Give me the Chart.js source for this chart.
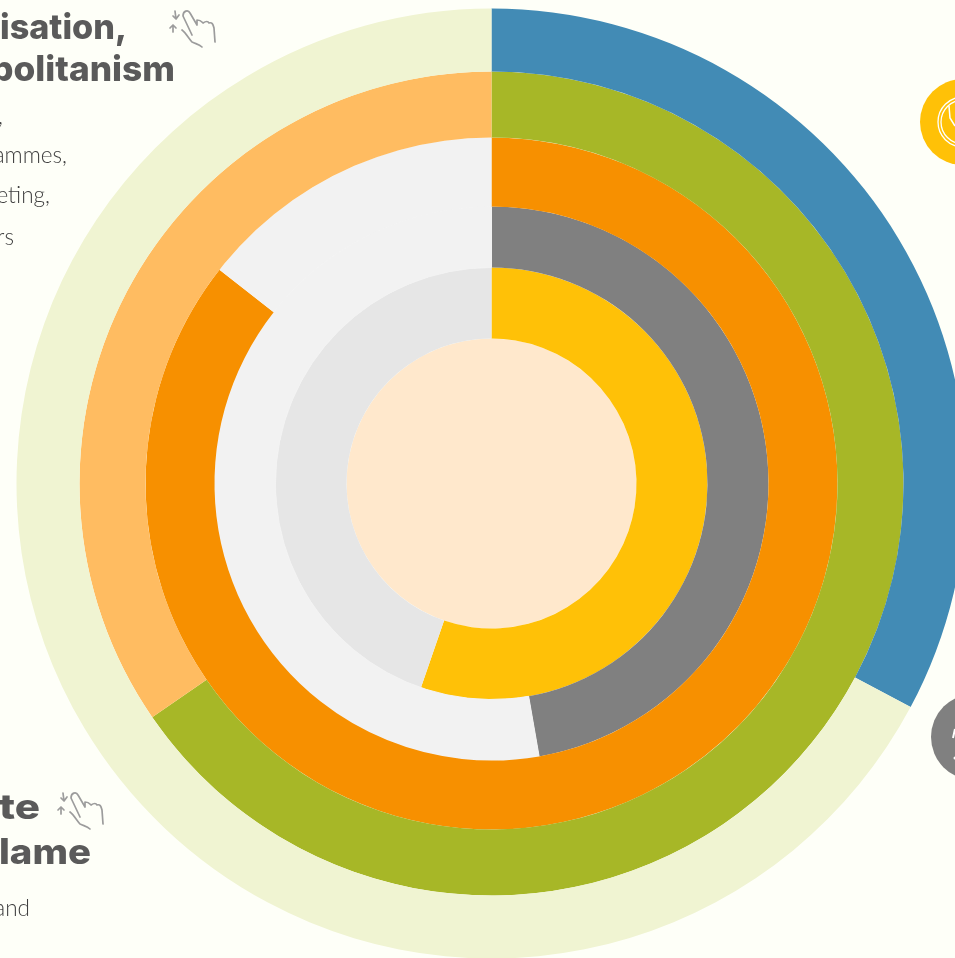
<!DOCTYPE html>
<html>
<head>
<meta charset="utf-8">
<style>
html,body{margin:0;padding:0;width:955px;height:958px;overflow:hidden;background:#fefff8;}
#rings{position:absolute;left:16px;top:8px;}
#over{position:absolute;left:0;top:0;}
.h{font-family:Inter,sans-serif;font-weight:800;font-size:35px;fill:#5a5a5a;text-anchor:end;}
.b{font-family:Lato,sans-serif;font-weight:300;font-size:22.5px;fill:#3f3f3f;text-anchor:end;}
</style>
</head>
<body>
<canvas id="rings" width="951" height="951"></canvas>
<svg id="over" width="955" height="958">
<defs>
<g id="hand" fill="none" stroke="#9c9c9c" stroke-width="1.7" stroke-linecap="round" stroke-linejoin="round">
<path d="M12 22 C16 25 19 31 22 34 C26 36 29 36 32 39"/>
<path d="M22 27 L13 8 C13 3 18 1 20 5 L27 17 L27 12 C31 12 32 14 33 15 C36 13 38 13 39 15 C42 14 43 16 44 20 L45 34"/>
<path d="M5 3 L6 11 M3 8 L6 11 L9 7"/>
<path d="M3 24 L3 17 M0 20 L3 17 L6 20"/>
</g>
</defs>
<text class="h" x="127" y="39" textLength="127" lengthAdjust="spacingAndGlyphs">isation,</text>
<text class="h" x="175" y="81" textLength="184" lengthAdjust="spacingAndGlyphs">politanism</text>
<text class="b" x="3" y="124">,</text>
<text class="b" x="67" y="163">ammes,</text>
<text class="b" x="50" y="203">eting,</text>
<text class="b" x="14" y="245">rs</text>
<text class="h" x="40" y="819" textLength="41" lengthAdjust="spacingAndGlyphs">te</text>
<text class="h" x="91" y="864" textLength="92" lengthAdjust="spacingAndGlyphs">lame</text>
<text class="b" x="30" y="916">and</text>
<use href="#hand" x="170" y="8"/>
<use href="#hand" x="58" y="790"/>
<circle cx="963" cy="122" r="43" fill="#ffc107"/>
<circle cx="963" cy="122" r="25" fill="none" stroke="#fff" stroke-width="1.3"/>
<circle cx="963" cy="122" r="22" fill="none" stroke="#fff" stroke-width="1.3"/>
<path d="M949 106 L950 118 L955 126" fill="none" stroke="#fff" stroke-width="1.5"/>
<circle cx="974" cy="737" r="43" fill="#808080"/>
<path d="M955 729 L953 738" stroke="#fff" stroke-width="2" fill="none"/>
<circle cx="955" cy="758" r="1.5" fill="#fff"/>
</svg>
<script src="https://cdn.jsdelivr.net/npm/chart.js@4"></script>
<script>
// outer to inner, the library puts the first dataset on the outside
const ring5 = [32.8, 67.2];
const ring4 = [65.4, 34.6];
const ring3 = [85.6, 14.4];
const ring2 = [47.25, 52.75];
const ring1 = [55.3, 44.7];
const centre = [100];

new Chart(document.getElementById('rings').getContext('2d'), {
    type: 'doughnut',
    data: {
        labels: ['Value', 'Rest'],
        datasets: [
            {data: ring5, backgroundColor: ['#428bb5', '#f0f4d2'], weight: 63},
            {data: ring4, backgroundColor: ['#a7b727', '#ffbc61'], weight: 66},
            {data: ring3, backgroundColor: ['#f79000', '#f2f2f2'], weight: 69},
            // thin same colour border hides the seam with the ring above
            {data: ring2, backgroundColor: ['#808080', '#f2f2f2'], borderColor: ['#808080', '#f2f2f2'], borderWidth: [0, 1], weight: 61},
            {data: ring1, backgroundColor: ['#ffc107', '#e6e6e6'], weight: 71},
            {data: centre, backgroundColor: ['#ffe8cc'], weight: 145}
        ]
    },
    options: {
        responsive: false,
        animation: false,
        cutout: 0,
        radius: 475,
        borderWidth: 0,
        events: [],
        layout: {padding: 0},
        plugins: {
            legend: {display: false},
            tooltip: {enabled: false}
        }
    }
});
</script>
</body>
</html>
